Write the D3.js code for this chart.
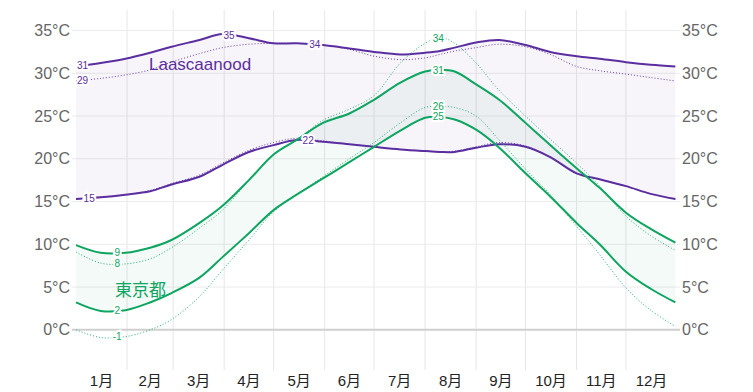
<!DOCTYPE html>
<html>
<head>
<meta charset="utf-8">
<script src="https://cdn.jsdelivr.net/npm/d3@7"></script>
<style>
  body { margin: 0; background: #fff; }
  text { font-family: "Liberation Sans", Arial, "Noto Sans CJK JP", sans-serif; }
</style>
</head>
<body>
<script>
// day of year for each reading
var days = [0, 15, 30, 45, 58, 75, 89, 105, 120, 134, 150, 166, 181, 197, 212, 221, 230, 243, 257, 273, 288, 304, 318, 334, 349, 364];

// Laascaanood
var laasHigh     = [30.8, 31.2, 31.7, 32.4, 33.1, 33.9, 34.6, 34.1, 33.5, 33.5, 33.3, 32.9, 32.5, 32.2, 32.4, 32.6, 33.0, 33.6, 33.9, 33.3, 32.5, 32.0, 31.7, 31.3, 31.0, 30.8];
var laasHighAvg  = [29.1, 29.4, 29.8, 30.4, 31.3, 32.3, 33.0, 33.4, 33.5, 33.5, 33.3, 32.8, 32.0, 31.6, 31.8, 32.2, 32.6, 33.0, 33.4, 33.1, 32.2, 30.8, 30.3, 29.9, 29.5, 29.1];
var laasLow      = [15.3, 15.5, 15.8, 16.2, 17.0, 17.9, 19.3, 20.8, 21.6, 22.2, 22.0, 21.7, 21.4, 21.1, 20.9, 20.8, 20.8, 21.3, 21.7, 21.4, 20.2, 18.3, 17.6, 16.8, 15.9, 15.3];
var laasLowAvg   = [15.3, 15.5, 15.8, 16.3, 17.1, 18.1, 19.5, 21.0, 21.9, 22.4, 22.1, 21.7, 21.4, 21.1, 20.9, 20.8, 20.9, 21.4, 21.9, 21.5, 20.2, 18.3, 17.6, 16.8, 15.9, 15.3];

// 東京都
var tokyoHigh    = [9.9, 9.0, 9.0, 9.6, 10.5, 12.5, 14.5, 17.5, 20.5, 22.2, 24.2, 25.3, 26.9, 28.9, 30.2, 30.4, 30.2, 28.7, 26.9, 24.2, 21.6, 18.9, 16.6, 13.7, 11.8, 10.2];
var tokyoHighAvg = [9.1, 7.8, 7.7, 8.3, 9.6, 11.9, 14.0, 17.5, 20.5, 22.2, 24.5, 25.8, 27.4, 31.2, 33.5, 34.2, 33.5, 31.2, 28.0, 25.0, 22.3, 19.5, 16.8, 13.3, 11.0, 9.3];
var tokyoLow     = [3.2, 2.2, 2.3, 3.2, 4.3, 6.1, 8.5, 11.3, 14.0, 15.8, 17.7, 19.6, 21.4, 23.3, 24.8, 24.9, 24.6, 23.4, 21.3, 18.3, 15.6, 12.5, 10.0, 6.8, 4.8, 3.2];
var tokyoLowAvg  = [0.0, -0.9, -0.8, 0.0, 1.2, 3.9, 7.0, 10.5, 13.8, 15.8, 17.9, 20.0, 21.9, 24.2, 26.0, 26.1, 26.0, 25.0, 22.2, 18.8, 15.8, 12.1, 8.8, 4.9, 2.3, 0.4];

var monthDays = [31, 28, 31, 30, 31, 30, 31, 31, 30, 31, 30, 31];
var monthNames = ["1月", "2月", "3月", "4月", "5月", "6月", "7月", "8月", "9月", "10月", "11月", "12月"];
var tempTicks = [0, 5, 10, 15, 20, 25, 30, 35];

// value labels: day, series, text
var valueLabels = [
  { s: laasHigh, day: 4, text: "31", c: "purple" },
  { s: laasHighAvg, day: 4, text: "29", c: "purple" },
  { s: laasHigh, day: 93, text: "35", c: "purple" },
  { s: laasHigh, day: 145, text: "34", c: "purple" },
  { s: laasLow, day: 8, text: "15", c: "purple" },
  { s: laasLow, day: 141, text: "22", c: "purple" },
  { s: tokyoHigh, day: 25, text: "9", c: "green" },
  { s: tokyoHighAvg, day: 25, text: "8", c: "green" },
  { s: tokyoLow, day: 25, text: "2", c: "green" },
  { s: tokyoLowAvg, day: 25, text: "-1", c: "green" },
  { s: tokyoHigh, day: 220, text: "31", c: "green" },
  { s: tokyoHighAvg, day: 220, text: "34", c: "green" },
  { s: tokyoLow, day: 220, text: "25", c: "green" },
  { s: tokyoLowAvg, day: 220, text: "26", c: "green" }
];

var colors = { purple: "#5b2ea0", green: "#0da560" };

var width = 753, height = 392;
var plotL = 76, plotR = 677, plotT = 10, plotB = 370;

var svg = d3.select("body").append("svg")
  .attr("width", width)
  .attr("height", height);

var x = d3.scaleLinear().domain([0, 365]).range([plotL, plotR]);
var y = d3.scaleLinear().domain([-4.7, 37.4]).range([plotB, plotT]);

// month boundaries
var bounds = [];
var acc = 0;
monthDays.forEach(function (d) { bounds.push({ start: acc, end: acc + d }); acc += d; });

// vertical grid
svg.selectAll(".vgrid")
  .data(bounds.slice(1))
  .enter().append("line")
  .attr("x1", function (d) { return x(d.start); })
  .attr("x2", function (d) { return x(d.start); })
  .attr("y1", plotT).attr("y2", plotB)
  .attr("stroke", "#e6e6e6").attr("stroke-width", 1);

// horizontal grid
svg.selectAll(".hgrid")
  .data(tempTicks)
  .enter().append("line")
  .attr("x1", plotL - 4).attr("x2", plotR + 3)
  .attr("y1", function (d) { return y(d); })
  .attr("y2", function (d) { return y(d); })
  .attr("stroke", function (d) { return d === 0 ? "#cfcfcf" : "#ececec"; })
  .attr("stroke-width", function (d) { return d === 0 ? 2 : 1; });

function pts(arr) { return arr.map(function (v, i) { return [days[i], v]; }); }
function zip(hi, lo) { return hi.map(function (v, i) { return { d: days[i], hi: v, lo: lo[i] }; }); }

var line = d3.line()
  .x(function (d) { return x(d[0]); })
  .y(function (d) { return y(d[1]); })
  .curve(d3.curveCatmullRom.alpha(0.5));

var area = d3.area()
  .x(function (d) { return x(d.d); })
  .y0(function (d) { return y(d.lo); })
  .y1(function (d) { return y(d.hi); })
  .curve(d3.curveCatmullRom.alpha(0.5));

// bands
svg.append("path").attr("d", area(zip(laasHigh, laasLow)))
  .attr("fill", colors.purple).attr("fill-opacity", 0.05);
svg.append("path").attr("d", area(zip(tokyoHigh, tokyoLow)))
  .attr("fill", colors.green).attr("fill-opacity", 0.05);

var series = [
  { s: laasHighAvg, c: colors.purple, dotted: true },
  { s: laasLowAvg, c: colors.purple, dotted: true },
  { s: laasHigh, c: colors.purple, dotted: false },
  { s: laasLow, c: colors.purple, dotted: false },
  { s: tokyoHighAvg, c: colors.green, dotted: true },
  { s: tokyoLowAvg, c: colors.green, dotted: true },
  { s: tokyoHigh, c: colors.green, dotted: false },
  { s: tokyoLow, c: colors.green, dotted: false }
];

svg.selectAll(".series")
  .data(series)
  .enter().append("path")
  .attr("d", function (d) { return line(pts(d.s)); })
  .attr("fill", "none")
  .attr("stroke", function (d) { return d.c; })
  .attr("stroke-width", function (d) { return d.dotted ? 1 : 2; })
  .attr("stroke-dasharray", function (d) { return d.dotted ? "1,2" : null; })
  .attr("stroke-opacity", function (d) { return d.dotted ? 0.9 : 1; });

// value at a day
function valueAt(arr, day) {
  var i = d3.bisectRight(days, day) - 1;
  i = Math.max(0, Math.min(days.length - 2, i));
  var t = (day - days[i]) / (days[i + 1] - days[i]);
  return arr[i] + t * (arr[i + 1] - arr[i]);
}

svg.selectAll(".vlabel")
  .data(valueLabels)
  .enter().append("text")
  .attr("x", function (d) { return x(d.day); })
  .attr("y", function (d) { return y(valueAt(d.s, d.day)); })
  .attr("dy", "0.35em")
  .attr("text-anchor", "middle")
  .attr("font-size", "10px")
  .attr("fill", function (d) { return colors[d.c]; })
  .attr("stroke", "#fff")
  .attr("stroke-width", 4)
  .attr("paint-order", "stroke")
  .text(function (d) { return d.text; });

// series names
svg.append("text")
  .attr("x", 149).attr("y", y(30.4))
  .attr("font-size", "17px")
  .attr("fill", colors.purple)
  .text("Laascaanood");
svg.append("text")
  .attr("x", 115).attr("y", y(4.0))
  .attr("font-size", "17px")
  .attr("font-family", "'Noto Sans CJK JP', sans-serif")
  .attr("fill", colors.green)
  .text("東京都");

// y axes labels
svg.selectAll(".ylabL")
  .data(tempTicks)
  .enter().append("text")
  .attr("x", plotL - 6)
  .attr("y", function (d) { return y(d); })
  .attr("dy", "0.35em")
  .attr("text-anchor", "end")
  .attr("font-size", "16px")
  .attr("fill", "#666")
  .text(function (d) { return d + "°C"; });

svg.selectAll(".ylabR")
  .data(tempTicks)
  .enter().append("text")
  .attr("x", plotR + 5)
  .attr("y", function (d) { return y(d); })
  .attr("dy", "0.35em")
  .attr("text-anchor", "start")
  .attr("font-size", "16px")
  .attr("fill", "#666")
  .text(function (d) { return d + "°C"; });

// month labels
svg.selectAll(".month")
  .data(bounds)
  .enter().append("text")
  .attr("x", function (d) { return x((d.start + d.end) / 2); })
  .attr("y", 386)
  .attr("text-anchor", "middle")
  .attr("font-size", "15px")
  .attr("font-family", "'Noto Sans CJK JP', sans-serif")
  .attr("fill", "#222")
  .text(function (d, i) { return monthNames[i]; });
</script>
</body>
</html>
